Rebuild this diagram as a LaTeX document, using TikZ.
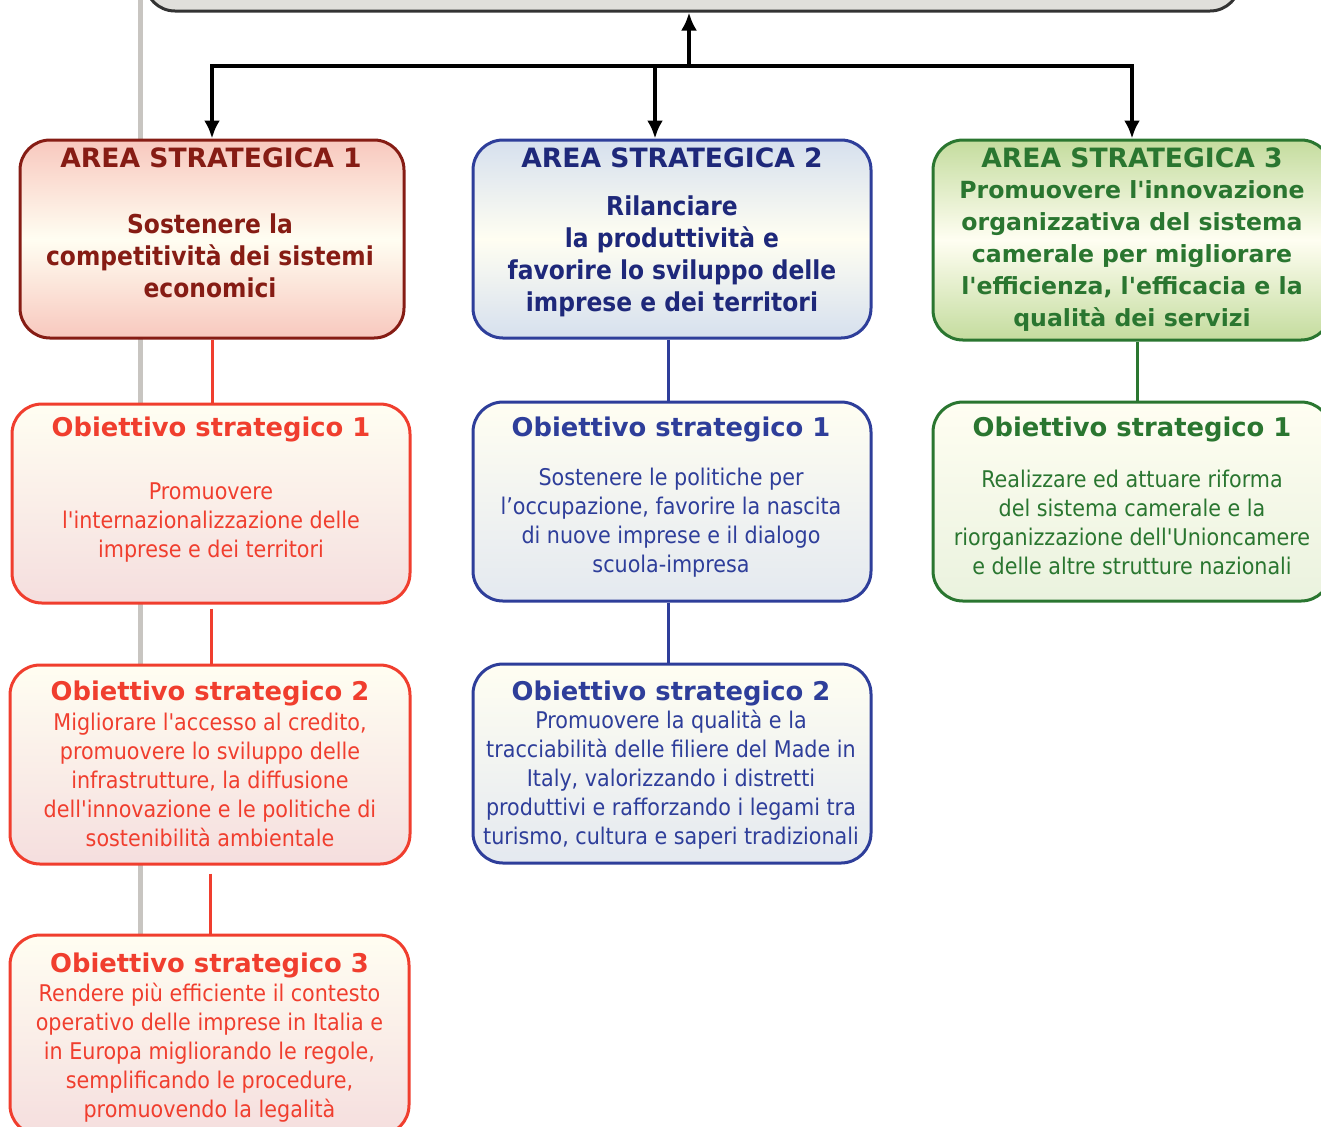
\documentclass[tikz,border=0pt]{standalone}
\usepackage{fontspec}
\setmainfont{DejaVu Sans}[Ligatures=TeXOff]
\newfontfamily\condfont{DejaVu Sans Condensed}[Ligatures=TeXOff,BoldFont={DejaVu Sans Condensed Bold}]
\usepackage{tikz}
\usetikzlibrary{arrows,arrows.meta,calc,positioning}

\definecolor{redtxt}{RGB}{240,62,46}
\definecolor{darkred}{RGB}{134,28,20}
\definecolor{navy}{RGB}{30,40,122}
\definecolor{bluetxt}{RGB}{46,62,154}
\definecolor{greentxt}{RGB}{42,118,48}
\definecolor{cream}{RGB}{255,254,242}
\definecolor{pinkfill}{RGB}{248,200,190}
\definecolor{bluefill}{RGB}{214,224,238}
\definecolor{greenfill}{RGB}{196,220,158}
\definecolor{pinklow}{RGB}{245,222,222}
\definecolor{bluelow}{RGB}{228,233,240}
\definecolor{greenlow}{RGB}{234,242,222}
\definecolor{spinegray}{RGB}{200,197,193}
\definecolor{goalgray}{RGB}{224,223,219}

\begin{document}
\begin{tikzpicture}[x=0.5pt,y=-0.5pt,
		box/.style={draw,rounded corners=15pt,line width=1.5pt,inner sep=0pt},
		areabox/.style={box,top color=#1,bottom color=#1,middle color=cream},
		objbox/.style={box,top color=cream,bottom color=#1},
		areattl/.style={font=\fontsize{13.3}{16}\selectfont\bfseries,anchor=base},
		areatxt/.style={font=\condfont\fontsize{13}{16}\selectfont\bfseries,align=center},
		areawide/.style={font=\fontsize{11.8}{16}\selectfont\bfseries,align=center},
		objttl/.style={font=\fontsize{12.9}{16}\selectfont\bfseries,anchor=base},
		objtxt/.style={font=\condfont\fontsize{11.5}{14.5}\selectfont,align=center},
		link/.style={line width=1.5pt},
		arrow/.style={line width=2pt,-{Latex[length=9pt,width=8pt]}}]
		\useasboundingbox (0,0) rectangle (1321,1126);
		\clip (0,0) rectangle (1321,1126);
		
		% grey spine on the left
		\coordinate (spinetop) at (140,0);
		\draw[line width=2.5pt,spinegray] (spinetop) -- (spinetop |- 0,935);
		
		% goal box at the top
		\node[box,fill=goalgray,draw=black!80,minimum width=547.5pt,minimum height=50pt] (goal) at (692.5,-39) {};
		
		% strategic areas
		\node[areabox=pinkfill,draw=darkred,minimum width=192pt,minimum height=99pt] (a1) at (212,239) {};
		\node[areattl,text=darkred] (a1t) at (211,167) {AREA STRATEGICA 1};
		\node[areatxt,text=darkred] (a1d) at (210,256) {Sostenere la\\competitività dei sistemi\\economici};
		
		\node[areabox=bluefill,draw=bluetxt,minimum width=199pt,minimum height=99pt] (a2) at (672,239) {};
		\node[areattl,text=navy] (a2t) at (672,167) {AREA STRATEGICA 2};
		\node[areatxt,text=navy] (a2d) at (672,256) {Rilanciare\\la produttività e\\favorire lo sviluppo delle\\imprese e dei territori};
		
		\node[areabox=greenfill,draw=greentxt,minimum width=199pt,minimum height=100pt] (a3) at (1132,240) {};
		\node[areattl,text=greentxt] (a3t) at (1132,167) {AREA STRATEGICA 3};
		\node[areawide,text=greentxt] (a3d) at (1132,256) {Promuovere l'innovazione\\organizzativa del sistema\\camerale per migliorare\\l'efficienza, l'efficacia e la\\qualità dei servizi};
		
		% arrows from the areas up to the goal
		\coordinate (junc) at (689,66);
		\draw[arrow] (junc) -- (junc |- goal.south);
		\draw[line width=2pt,line cap=rect] (a1.north |- junc) -- (a3.north |- junc);
		\draw[arrow] (a1.north |- junc) -- (a1.north);
		\draw[arrow] ([xshift=-8.5pt]a2.north |- junc) -- ([xshift=-8.5pt]a2.north);
		\draw[arrow] (a3.north |- junc) -- (a3.north);
		
		% objectives, area 1
		\node[objbox=pinklow,draw=redtxt,minimum width=199pt,minimum height=99.5pt] (r1) at (211,503.5) {};
		\node[objttl,text=redtxt] (r1t) at (211,436) {Obiettivo strategico 1};
		\node[objtxt,text=redtxt] (r1d) at (211,522) {Promuovere\\l'internazionalizzazione delle\\imprese e dei territori};
		
		\node[objbox=pinklow,draw=redtxt,minimum width=200pt,minimum height=99.5pt] (r2) at (210,764.5) {};
		\node[objttl,text=redtxt] (r2t) at (210,700) {Obiettivo strategico 2};
		\node[objtxt,text=redtxt] (r2d) at (210,780) {Migliorare l'accesso al credito,\\promuovere lo sviluppo delle\\infrastrutture, la diffusione\\dell'innovazione e le politiche di\\sostenibilità ambientale};
		
		\node[objbox=pinklow,draw=redtxt,minimum width=199.5pt,minimum height=100pt] (r3) at (209.5,1035) {};
		\node[objttl,text=redtxt] (r3t) at (209.5,972) {Obiettivo strategico 3};
		\node[objtxt,text=redtxt] (r3d) at (209.5,1053) {Rendere più efficiente il contesto\\operativo delle imprese in Italia e\\in Europa migliorando le regole,\\semplificando le procedure,\\promuovendo la legalità};
		
		% objectives, area 2
		\node[objbox=bluelow,draw=bluetxt,minimum width=199pt,minimum height=99.5pt] (b1) at (672,501.5) {};
		\node[objttl,text=bluetxt] (b1t) at (671,436) {Obiettivo strategico 1};
		\node[objtxt,text=bluetxt] (b1d) at (671,523) {Sostenere le politiche per\\l’occupazione, favorire la nascita\\di nuove imprese e il dialogo\\scuola-impresa};
		
		\node[objbox=bluelow,draw=bluetxt,minimum width=199pt,minimum height=99.5pt] (b2) at (672,763.5) {};
		\node[objttl,text=bluetxt] (b2t) at (671,700) {Obiettivo strategico 2};
		\node[objtxt,text=bluetxt] (b2d) at (671,780) {Promuovere la qualità e la\\tracciabilità delle filiere del Made in\\Italy, valorizzando i distretti\\produttivi e rafforzando i legami tra\\turismo, cultura e saperi tradizionali};
		
		% objectives, area 3
		\node[objbox=greenlow,draw=greentxt,minimum width=199pt,minimum height=99.5pt] (g1) at (1132,501.5) {};
		\node[objttl,text=greentxt] (g1t) at (1132,436) {Obiettivo strategico 1};
		\node[objtxt,text=greentxt] (g1d) at (1132,522) {Realizzare ed attuare riforma\\del sistema camerale e la\\riorganizzazione dell'Unioncamere\\e delle altre strutture nazionali};
		
		% links between boxes
		\draw[link,redtxt] (a1.south) -- (a1.south |- r1.north);
		\draw[link,redtxt,shorten <=2pt] (r1.south) -- (r1.south |- r2.north);
		\draw[link,redtxt,shorten <=4pt] (r2.south) -- (r2.south |- r3.north);
		\draw[link,bluetxt] ([xshift=-2pt]a2.south) -- ([xshift=-2pt]a2.south |- b1.north);
		\draw[link,bluetxt] ([xshift=-2pt]b1.south) -- ([xshift=-2pt]b1.south |- b2.north);
		\draw[link,greentxt] ([xshift=2.5pt]a3.south) -- ([xshift=2.5pt]a3.south |- g1.north);
	\end{tikzpicture}
\end{document}
